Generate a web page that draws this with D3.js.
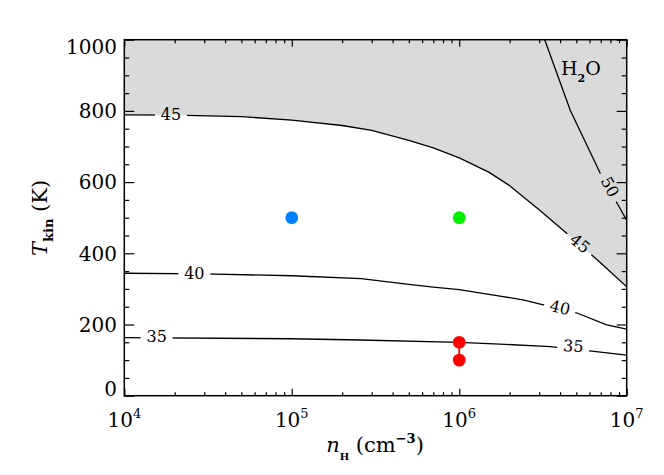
<!DOCTYPE html>
<html><head><meta charset="utf-8">
<script src="https://cdn.jsdelivr.net/npm/d3@7"></script>
<style>body{margin:0;background:#fff}</style>
</head><body><svg id="c" width="664" height="475"></svg>
<script>
// ---- data ----
const xMajor = [1e4, 1e5, 1e6, 1e7];
const xExp = ["4", "5", "6", "7"];
const yMajor = [0, 200, 400, 600, 800, 1000];

const c45N = [1e4, 2e4, 5e4, 1e5, 2e5, 3e5, 5e5, 7e5, 1e6, 1.5e6, 2e6, 3e6, 5e6, 7e6, 1e7];
const c45T = [789, 788, 784, 774, 759, 745, 717, 696, 668, 628, 590, 522, 433, 373, 306];

const c50N = [3.24e6, 4.6e6, 6.95e6, 1e7];
const c50T = [1000, 802, 625, 493];

const c40N = [1e4, 3e4, 1e5, 2.6e5, 5e5, 7e5, 1e6, 1.75e6, 2.4e6, 5e6, 7.6e6, 1e7];
const c40T = [344, 342, 337, 329, 313, 305, 298, 280, 269, 233, 199, 187];

const c35N = [1e4, 1e5, 2.56e5, 1e6, 1.75e6, 3.5e6, 6e6, 1e7];
const c35T = [163, 160, 156.5, 150, 145, 138, 126, 114];

const labText = ["45", "45", "50", "40", "40", "35", "35"];
const labN = [1.9e4, 5.27e6, 7.96e6, 2.62e4, 4.0e6, 1.56e4, 4.8e6];
const labT = [790, 428, 587, 345, 248, 166, 140];
const labAngle = [0, 40, 62, 0, 13, 0, 4];

const ptN = [1e5, 1e6, 1e6, 1e6];
const ptT = [500, 500, 150, 100];
const ptColor = ["#0080ff", "#00f000", "#ff0000", "#ff0000"];

// ---- layout ----
const L = 124.3, R = 626.7, T = 39.7, B = 395.7;
const FONT = "DejaVu Serif";
const svg = d3.select("#c");
const x = d3.scaleLog().domain([1e4, 1e7]).range([L, R]);
const y = d3.scaleLinear().domain([0, 1000]).range([B, T]);

const zip = (a, b) => a.map((v, i) => [v, b[i]]);
const line = d3.line().x(d => x(d[0])).y(d => y(d[1]));

svg.append("defs").append("clipPath").attr("id", "plot")
  .append("rect").attr("x", L).attr("y", T).attr("width", R - L).attr("height", B - T);

// gray region above 45 contour
const fillPts = zip(c45N, c45T).concat([[1e7, 1000], [1e4, 1000]]);
svg.append("path").attr("d", line(fillPts) + "Z").attr("fill", "#dadada")
  .attr("clip-path", "url(#plot)");

// mask for label gaps
const mask = svg.select("defs").append("mask").attr("id", "gap")
  .attr("maskUnits", "userSpaceOnUse").attr("x", 0).attr("y", 0).attr("width", 664).attr("height", 475);
mask.append("rect").attr("width", 664).attr("height", 475).attr("fill", "#fff");
labText.forEach((t, i) => {
  mask.append("rect").attr("x", -16).attr("y", -8).attr("width", 32).attr("height", 16)
    .attr("fill", "#000")
    .attr("transform", `translate(${x(labN[i])},${y(labT[i])}) rotate(${labAngle[i]})`);
});

const cg = svg.append("g").attr("mask", "url(#gap)").attr("clip-path", "url(#plot)");
[[c45N, c45T], [c50N, c50T], [c40N, c40T], [c35N, c35T]].forEach(([n, t]) => {
  cg.append("path").attr("d", line(zip(n, t))).attr("fill", "none")
    .attr("stroke", "#000").attr("stroke-width", 1.3);
});

labText.forEach((t, i) => {
  svg.append("text").text(t)
    .attr("transform", `translate(${x(labN[i])},${y(labT[i])}) rotate(${labAngle[i]})`)
    .attr("text-anchor", "middle").attr("dy", "0.36em")
    .attr("font-family", FONT).attr("font-size", 16).attr("fill", "#000");
});

// H2O label
const h = svg.append("text").attr("x", 561).attr("y", 75)
  .attr("font-family", FONT).attr("font-size", 19).attr("fill", "#000");
h.append("tspan").text("H");
h.append("tspan").text("2").attr("font-size", 11).attr("font-weight", "bold").attr("dy", 7);
h.append("tspan").text("O").attr("dy", -7);

// points
svg.append("line").attr("x1", x(ptN[2])).attr("x2", x(ptN[3]))
  .attr("y1", y(ptT[2])).attr("y2", y(ptT[3])).attr("stroke", "#ff0000").attr("stroke-width", 1.8);
ptN.forEach((n, i) => {
  svg.append("circle").attr("cx", x(n)).attr("cy", y(ptT[i])).attr("r", 6.4).attr("fill", ptColor[i]);
});

// axes (ticks inward)
const xMinor = [];
for (let e = 4; e < 7; e++) for (let k = 2; k <= 9; k++) xMinor.push(k * Math.pow(10, e));
const yMinor = d3.range(0, 1001, 50).filter(v => v % 200 !== 0);

function styleAxis(g) {
  g.select(".domain").remove();
  g.selectAll("line").attr("stroke", "#000").attr("stroke-width", 1.2);
}
svg.append("g").attr("transform", `translate(0,${B})`)
  .call(d3.axisBottom(x).tickValues(xMajor).tickSize(-7).tickFormat("")).call(styleAxis);
svg.append("g").attr("transform", `translate(0,${B})`)
  .call(d3.axisBottom(x).tickValues(xMinor).tickSize(-3.5).tickFormat("")).call(styleAxis);
svg.append("g").attr("transform", `translate(0,${T})`)
  .call(d3.axisTop(x).tickValues(xMajor).tickSize(-7).tickFormat("")).call(styleAxis);
svg.append("g").attr("transform", `translate(0,${T})`)
  .call(d3.axisTop(x).tickValues(xMinor).tickSize(-3.5).tickFormat("")).call(styleAxis);
svg.append("g").attr("transform", `translate(${L},0)`)
  .call(d3.axisLeft(y).tickValues(yMajor).tickSize(-10).tickFormat("")).call(styleAxis);
svg.append("g").attr("transform", `translate(${L},0)`)
  .call(d3.axisLeft(y).tickValues(yMinor).tickSize(-5).tickFormat("")).call(styleAxis);
svg.append("g").attr("transform", `translate(${R},0)`)
  .call(d3.axisRight(y).tickValues(yMajor).tickSize(-10).tickFormat("")).call(styleAxis);
svg.append("g").attr("transform", `translate(${R},0)`)
  .call(d3.axisRight(y).tickValues(yMinor).tickSize(-5).tickFormat("")).call(styleAxis);

svg.append("rect").attr("x", L).attr("y", T).attr("width", R - L).attr("height", B - T)
  .attr("fill", "none").attr("stroke", "#000").attr("stroke-width", 1.5);

// tick labels
xMajor.forEach((v, i) => {
  const t = svg.append("text").attr("x", x(v)).attr("y", 427).attr("text-anchor", "middle")
    .attr("font-family", FONT).attr("font-size", 20).attr("fill", "#000");
  t.append("tspan").text("10");
  t.append("tspan").text(xExp[i]).attr("font-size", 13).attr("dy", -9);
});
yMajor.forEach(v => {
  const yy = Math.max(T + 7, Math.min(B - 7, y(v)));
  svg.append("text").attr("x", 117).attr("y", yy).attr("dy", "0.36em").attr("text-anchor", "end")
    .attr("font-family", FONT).attr("font-size", 20).attr("fill", "#000").text(v);
});

// axis titles
const xt = svg.append("text").attr("x", 375).attr("y", 452).attr("text-anchor", "middle")
  .attr("font-family", FONT).attr("font-size", 21).attr("fill", "#000");
xt.append("tspan").text("n").attr("font-style", "italic");
xt.append("tspan").text("H").attr("font-size", 10).attr("font-weight", "bold").attr("dy", 8);
xt.append("tspan").text(" (cm").attr("dy", -8);
xt.append("tspan").text("−3").attr("font-size", 13).attr("font-weight", "bold").attr("dy", -9);
xt.append("tspan").text(")").attr("dy", 9);

const yt = svg.append("text").attr("transform", "translate(47,218) rotate(-90)")
  .attr("text-anchor", "middle")
  .attr("font-family", FONT).attr("font-size", 21).attr("fill", "#000");
yt.append("tspan").text("T").attr("font-style", "italic");
yt.append("tspan").text("kin").attr("font-size", 13).attr("font-weight", "bold").attr("dy", 6);
yt.append("tspan").text(" (K)").attr("dy", -6);
</script></body></html>
